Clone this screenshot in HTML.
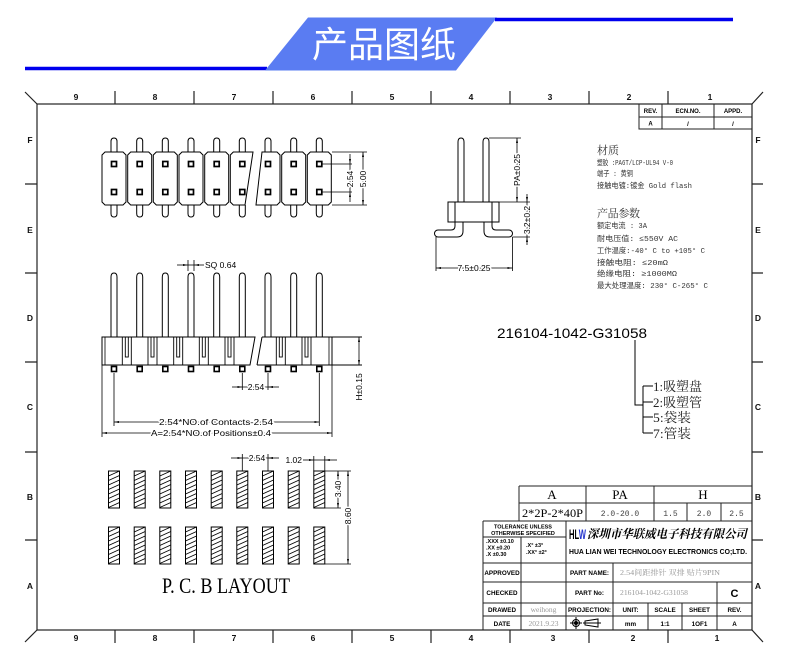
<!DOCTYPE html>
<html><head><meta charset="utf-8"><style>
html,body{margin:0;padding:0;background:#fff;}
svg{display:block;}
.k{paint-order:stroke;stroke:#fff;stroke-width:3px;stroke-linejoin:round;}
</style></head><body>
<svg width="790" height="663" viewBox="0 0 790 663" xmlns="http://www.w3.org/2000/svg" font-family="Liberation Sans, sans-serif">
<defs>
<marker id="ar" viewBox="0 0 10 4" refX="10" refY="2" markerWidth="5" markerHeight="2" markerUnits="userSpaceOnUse" orient="auto-start-reverse"><path d="M0,0 L10,2 L0,4z" fill="#000"/></marker>
<g id="tb"><polygon points="-9,152 9,152 12,155 12,202 9,205 -9,205 -12,202 -12,155" fill="none" stroke="#000"/></g>
<g id="tt" fill="none" stroke="#000"><path d="M-3,152V141.5Q-3,138 0,138Q3,138 3,141.5V152"/><path d="M-3,205V213.5Q-3,217 0,217Q3,217 3,213.5V205"/><rect x="-2.5" y="161.5" width="5" height="5" stroke-width="1.7"/><rect x="-2.5" y="189.5" width="5" height="5" stroke-width="1.7"/></g>
<g id="sp" fill="none" stroke="#000"><path d="M-3,337V277Q-3,273 0,273Q3,273 3,277V337"/><rect x="-2.5" y="366.5" width="5" height="5" stroke-width="1.6"/></g>
<g id="cb" fill="none" stroke="#000" stroke-width="0.9"><line x1="-4.5" y1="337" x2="-4.5" y2="365"/><line x1="4.5" y1="337" x2="4.5" y2="365"/><rect x="-1.5" y="337" width="3" height="20"/></g>
<g id="pd" fill="none" stroke="#000" stroke-width="0.9"><rect x="0" y="0" width="11" height="37" stroke-width="1"/><path d="M0,5L11,0M0,9.5L11,4.5M0,14L11,9M0,18.5L11,13.5M0,23L11,18M0,27.5L11,22.5M0,32L11,27M0,36.5L11,31.5"/></g>
</defs>

<!-- header -->
<line x1="25" y1="68.5" x2="267" y2="68.5" stroke="#0000ee" stroke-width="3.5"/>
<polygon points="265,70.5 308,17.5 497,17.5 456,70.5" fill="#5a7cf2"/>
<line x1="495" y1="19.5" x2="733" y2="19.5" stroke="#0000ee" stroke-width="3.5"/>
<text x="384" y="57" font-size="36" fill="#fff" text-anchor="middle" font-family="Noto Sans CJK SC, sans-serif">产品图纸</text>

<!-- frame -->
<g stroke="#222" stroke-width="1.2" fill="none">
<rect x="37" y="104" width="715" height="526"/>
<path d="M25,92L37,104M763,92L752,104M25,642L37,630M763,642L752,630"/>
<path d="M115,91V104M194,91V104M273,91V104M352,91V104M431,91V104M510,91V104M589,91V104M668,91V104"/>
<path d="M115,630V643M194,630V643M273,630V643M352,630V643M431,630V643M510,630V643M589,630V643M668,630V643"/>
<path d="M25,184H37M25,273H37M25,362H37M25,452H37M25,540H37"/>
<path d="M752,184H763M752,273H763M752,362H763M752,452H763M752,540H763"/>
</g>
<g font-size="8.5" font-weight="bold" text-anchor="middle" fill="#111">
<text x="76" y="100">9</text><text x="155" y="100">8</text><text x="234" y="100">7</text><text x="313" y="100">6</text><text x="392" y="100">5</text><text x="471" y="100">4</text><text x="550" y="100">3</text><text x="629" y="100">2</text><text x="710" y="100">1</text>
<text x="76" y="641">9</text><text x="155" y="641">8</text><text x="234" y="641">7</text><text x="313" y="641">6</text><text x="392" y="641">5</text><text x="471" y="641">4</text><text x="553" y="641">3</text><text x="633" y="641">2</text><text x="717" y="641">1</text>
<text x="30" y="143">F</text><text x="30" y="233">E</text><text x="30" y="321">D</text><text x="30" y="410">C</text><text x="30" y="500">B</text><text x="30" y="589">A</text>
<text x="758" y="143">F</text><text x="758" y="233">E</text><text x="758" y="321">D</text><text x="758" y="410">C</text><text x="758" y="500">B</text><text x="758" y="589">A</text>
</g>

<!-- REV table -->
<g stroke="#222" stroke-width="1" fill="none">
<path d="M639,104V129H752M639,117H752M662,104V129M714,104V129"/>
</g>
<g font-size="6" font-weight="bold" text-anchor="middle">
<text x="650.5" y="113">REV.</text><text x="688" y="113">ECN.NO.</text><text x="733" y="113">APPD.</text>
<text x="650.5" y="125.5">A</text><text x="688" y="126">/</text><text x="733" y="126">/</text>
</g>

<!-- TOP VIEW -->
<use href="#tb" x="114"/><use href="#tb" x="139.7"/><use href="#tb" x="165.3"/><use href="#tb" x="191"/><use href="#tb" x="216.7"/><use href="#tb" x="293.7"/><use href="#tb" x="319.3"/>
<polygon points="233.3,152 253,152 245,205 233.3,205 230.3,202 230.3,155" fill="none" stroke="#000"/>
<polygon points="262,152 277,152 280,155 280,202 277,205 256,205" fill="none" stroke="#000"/>
<use href="#tt" x="114"/><use href="#tt" x="139.7"/><use href="#tt" x="165.3"/><use href="#tt" x="191"/><use href="#tt" x="216.7"/><use href="#tt" x="242.3"/><use href="#tt" x="268"/><use href="#tt" x="293.7"/><use href="#tt" x="319.3"/>
<g stroke="#000" stroke-width="0.8" fill="none">
<path d="M322,164H352M322,192H352M332,152H367M332,205H367"/>
<line x1="350" y1="154" x2="350" y2="164" marker-end="url(#ar)"/>
<line x1="350" y1="202" x2="350" y2="192" marker-end="url(#ar)"/>
<line x1="350" y1="164" x2="350" y2="192"/>
<line x1="363" y1="152" x2="363" y2="205" marker-start="url(#ar)" marker-end="url(#ar)"/>
</g>
<g font-size="8.5" text-anchor="middle">
<text class="k" transform="translate(353,179) rotate(-90)">2.54</text>
<text class="k" transform="translate(366,179) rotate(-90)">5.00</text>
</g>

<!-- SIDE VIEW -->
<use href="#sp" x="114"/><use href="#sp" x="139.7"/><use href="#sp" x="165.3"/><use href="#sp" x="191"/><use href="#sp" x="216.7"/><use href="#sp" x="242.3"/><use href="#sp" x="268"/><use href="#sp" x="293.7"/><use href="#sp" x="319.3"/>
<g stroke="#000" fill="none">
<path d="M102,337H255L250,365H102Z"/>
<path d="M262,337H362M257,365H362M262,337L257,365M332,337V365"/>
<path d="M105,337V365M329,337V365" stroke-width="0.8"/>
</g>
<use href="#cb" x="126.8"/><use href="#cb" x="152.5"/><use href="#cb" x="178.2"/><use href="#cb" x="203.8"/><use href="#cb" x="229.5"/><use href="#cb" x="280.8"/><use href="#cb" x="306.5"/>
<g stroke="#000" stroke-width="0.8" fill="none">
<path d="M188,260V271M194,260V271"/>
<line x1="177" y1="265" x2="188" y2="265" marker-end="url(#ar)"/>
<line x1="204" y1="265" x2="194" y2="265" marker-end="url(#ar)"/>
<line x1="188" y1="265" x2="194" y2="265"/>
<path d="M242.3,373V390M268,373V390"/>
<line x1="232" y1="387" x2="242.3" y2="387" marker-end="url(#ar)"/>
<line x1="279" y1="387" x2="268" y2="387" marker-end="url(#ar)"/>
<line x1="242.3" y1="387" x2="268" y2="387"/>
<path d="M114,373V426M319.3,373V426M102,365V437M332,365V437"/>
<line x1="114" y1="422" x2="319.3" y2="422" marker-start="url(#ar)" marker-end="url(#ar)"/>
<line x1="102" y1="433" x2="332" y2="433" marker-start="url(#ar)" marker-end="url(#ar)"/>
<line x1="359" y1="337" x2="359" y2="365" marker-start="url(#ar)" marker-end="url(#ar)"/>
</g>
<g font-size="8.5">
<text x="205" y="268">SQ 0.64</text>
<text class="k" x="256" y="390" text-anchor="middle">2.54</text>
<text class="k" x="216" y="425" text-anchor="middle" textLength="114" lengthAdjust="spacingAndGlyphs">2.54*NO.of Contacts-2.54</text>
<text class="k" x="211" y="436" text-anchor="middle" textLength="120" lengthAdjust="spacingAndGlyphs">A=2.54*NO.of Positions±0.4</text>
<text transform="translate(362,387) rotate(-90)" text-anchor="middle">H±0.15</text>
</g>

<!-- PCB LAYOUT -->
<use href="#pd" x="108.5" y="471"/><use href="#pd" x="134.2" y="471"/><use href="#pd" x="159.8" y="471"/><use href="#pd" x="185.5" y="471"/><use href="#pd" x="211.2" y="471"/><use href="#pd" x="236.8" y="471"/><use href="#pd" x="262.5" y="471"/><use href="#pd" x="288.2" y="471"/><use href="#pd" x="313.8" y="471"/>
<use href="#pd" x="108.5" y="527"/><use href="#pd" x="134.2" y="527"/><use href="#pd" x="159.8" y="527"/><use href="#pd" x="185.5" y="527"/><use href="#pd" x="211.2" y="527"/><use href="#pd" x="236.8" y="527"/><use href="#pd" x="262.5" y="527"/><use href="#pd" x="288.2" y="527"/><use href="#pd" x="313.8" y="527"/>
<g stroke="#000" stroke-width="0.8" fill="none">
<path d="M242.3,471V454M268,471V454"/>
<line x1="231" y1="458" x2="242.3" y2="458" marker-end="url(#ar)"/>
<line x1="279" y1="458" x2="268" y2="458" marker-end="url(#ar)"/>
<line x1="242.3" y1="458" x2="268" y2="458"/>
<path d="M313.8,471V456M324.8,471V456"/>
<line x1="303" y1="460" x2="313.8" y2="460" marker-end="url(#ar)"/>
<line x1="337" y1="460" x2="324.8" y2="460" marker-end="url(#ar)"/>
<line x1="313.8" y1="460" x2="324.8" y2="460"/>
<path d="M324.8,471H351M324.8,508H341M324.8,564H351"/>
<line x1="338" y1="471" x2="338" y2="508" marker-start="url(#ar)" marker-end="url(#ar)"/>
<line x1="348" y1="471" x2="348" y2="564" marker-start="url(#ar)" marker-end="url(#ar)"/>
</g>
<g font-size="8.5">
<text class="k" x="257" y="461" text-anchor="middle">2.54</text>
<text x="302" y="463" text-anchor="end">1.02</text>
<text class="k" transform="translate(341,489) rotate(-90)" text-anchor="middle">3.40</text>
<text class="k" transform="translate(351,516) rotate(-90)" text-anchor="middle">8.60</text>
</g>
<text x="162" y="593" font-family="Liberation Serif, serif" font-size="22" textLength="128" lengthAdjust="spacingAndGlyphs">P. C. B LAYOUT</text>

<!-- RIGHT SIDE VIEW -->
<g stroke="#000" fill="none">
<path d="M458,202V142Q458,138 461,138Q464,138 464,142V202"/>
<path d="M483,202V142Q483,138 486,138Q489,138 489,142V202"/>
<rect x="448" y="202" width="51" height="20"/>
<path d="M455,202V226Q455,230 451,230H438A3.5,3.5 0 0 0 438,237H457Q463,237 463,231V222"/>
<path d="M492,202V226Q492,230 496,230H509A3.5,3.5 0 0 1 509,237H490Q484,237 484,231V222"/>
</g>
<g stroke="#000" stroke-width="0.8" fill="none">
<path d="M489,138H521M499,202H530M512.5,237H530M436,237V271M512.5,237V271"/>
<line x1="517" y1="138" x2="517" y2="202" marker-start="url(#ar)" marker-end="url(#ar)"/>
<line x1="527" y1="194" x2="527" y2="202" marker-end="url(#ar)"/>
<line x1="527" y1="245" x2="527" y2="237" marker-end="url(#ar)"/>
<line x1="527" y1="202" x2="527" y2="237"/>
<line x1="436" y1="268" x2="512.5" y2="268" marker-start="url(#ar)" marker-end="url(#ar)"/>
</g>
<g font-size="8.5" text-anchor="middle">
<text class="k" transform="translate(520,170) rotate(-90)">PA±0.25</text>
<text class="k" transform="translate(530,220) rotate(-90)">3.2±0.2</text>
<text class="k" x="474" y="271">7.5±0.25</text>
</g>

<!-- spec text -->
<g fill="#333" font-family="Liberation Mono, Noto Sans CJK SC, monospace" font-size="7.5">
<text x="597" y="154" font-size="11" font-family="Noto Serif CJK SC, serif" textLength="22">材质</text>
<text x="597" y="165" textLength="76" lengthAdjust="spacingAndGlyphs">塑胶 :PA6T/LCP-UL94 V-0</text>
<text x="597" y="176" textLength="36" lengthAdjust="spacingAndGlyphs">端子 : 黄铜</text>
<text x="597" y="188" textLength="95" lengthAdjust="spacingAndGlyphs">接触电镀:镀金 Gold flash</text>
<text x="597" y="217" font-size="11" font-family="Noto Serif CJK SC, serif" textLength="43">产品参数</text>
<text x="597" y="228" textLength="50" lengthAdjust="spacingAndGlyphs">额定电流 : 3A</text>
<text x="597" y="241" textLength="81" lengthAdjust="spacingAndGlyphs">耐电压值: ≤550V AC</text>
<text x="597" y="253" textLength="108" lengthAdjust="spacingAndGlyphs">工作温度:-40° C to +105° C</text>
<text x="597" y="265" textLength="71" lengthAdjust="spacingAndGlyphs">接触电阻: ≤20mΩ</text>
<text x="597" y="276" textLength="80" lengthAdjust="spacingAndGlyphs">绝缘电阻: ≥1000MΩ</text>
<text x="597" y="288" textLength="111" lengthAdjust="spacingAndGlyphs">最大处理温度: 230° C-265° C</text>
</g>

<!-- part number -->
<text x="497" y="338" font-size="14" textLength="150" lengthAdjust="spacingAndGlyphs">216104-1042-G31058</text>
<g stroke="#000" stroke-width="1" fill="none">
<path d="M635,340V405H643M643,386V433M643,386H653M643,402H653M643,417H653M643,433H653"/>
</g>
<g font-family="Liberation Serif, Noto Serif CJK SC, serif" font-size="13" fill="#222">
<text x="653" y="391" textLength="49" lengthAdjust="spacingAndGlyphs">1:吸塑盘</text>
<text x="653" y="407" textLength="49" lengthAdjust="spacingAndGlyphs">2:吸塑管</text>
<text x="653" y="422" textLength="38" lengthAdjust="spacingAndGlyphs">5:袋装</text>
<text x="653" y="438" textLength="38" lengthAdjust="spacingAndGlyphs">7:管装</text>
</g>

<!-- title block -->
<g stroke="#222" stroke-width="1" fill="none">
<path d="M519,486H752M519,503H752M483,521H752M519,486V521M586,486V521M654,486V521M687,503V521M721,503V521"/>
<path d="M483,521V630M483,537H566M521,537V630M566,521V630M483,563H752M483,582H752M483,603H752M483,616H752M613,563V630M717,582V630M648,603V630M682,603V630"/>
</g>
<g font-family="Liberation Serif, serif" text-anchor="middle">
<text x="552" y="499" font-size="13">A</text>
<text x="620" y="499" font-size="13">PA</text>
<text x="703" y="499" font-size="13">H</text>
<text x="552.5" y="517" font-size="12" textLength="61" lengthAdjust="spacingAndGlyphs">2*2P-2*40P</text>
</g>
<g font-family="Liberation Mono, monospace" font-size="8" text-anchor="middle" fill="#444">
<text x="620" y="516">2.0-20.0</text>
<text x="670.5" y="516">1.5</text><text x="704" y="516">2.0</text><text x="736.5" y="516">2.5</text>
</g>
<g font-size="5.5" font-weight="bold">
<text x="523" y="528.5" text-anchor="middle">TOLERANCE UNLESS</text>
<text x="523" y="535" text-anchor="middle">OTHERWISE SPECIFIED</text>
<text x="486" y="543">.XXX ±0.10</text>
<text x="486" y="549.5">.XX  ±0.20</text>
<text x="486" y="556">.X   ±0.30</text>
<text x="526" y="547">.X°  ±3°</text>
<text x="526" y="554">.XX° ±2°</text>
</g>
<text x="569" y="539" font-size="14" font-weight="bold" textLength="17" lengthAdjust="spacingAndGlyphs">HL<tspan fill="#2233cc">W</tspan></text>
<text x="587" y="538" font-size="12" font-weight="bold" font-style="italic" font-family="Liberation Serif, Noto Serif CJK SC, serif" textLength="160" lengthAdjust="spacingAndGlyphs">深圳市华联威电子科技有限公司</text>
<text x="569" y="554" font-size="7.5" font-weight="bold" textLength="178" lengthAdjust="spacingAndGlyphs">HUA LIAN WEI TECHNOLOGY ELECTRONICS CO;LTD.</text>
<g font-size="6.3" font-weight="bold" text-anchor="middle">
<text x="502" y="575">APPROVED</text>
<text x="589.5" y="575">PART NAME:</text>
<text x="502" y="595">CHECKED</text>
<text x="589.5" y="595">PART No:</text>
<text x="502" y="612">DRAWED</text>
<text x="589.5" y="612">PROJECTION:</text>
<text x="630.5" y="612">UNIT:</text>
<text x="665" y="612">SCALE</text>
<text x="699.5" y="612">SHEET</text>
<text x="734.5" y="612">REV.</text>
<text x="502" y="626">DATE</text>
<text x="630.5" y="626">mm</text>
<text x="665" y="626">1:1</text>
<text x="699.5" y="626">1OF1</text>
<text x="734.5" y="626">A</text>
<text x="734.5" y="597" font-size="11">C</text>
</g>
<g fill="#999" font-size="7.5" font-family="Liberation Serif, Noto Serif CJK SC, serif">
<text x="620" y="575" textLength="100" lengthAdjust="spacingAndGlyphs">2.54间距排针 双排 贴片9PIN</text>
<text x="620" y="595" textLength="68" lengthAdjust="spacingAndGlyphs">216104-1042-G31058</text>
<text x="543.5" y="612" text-anchor="middle">weihong</text>
<text x="543.5" y="626" text-anchor="middle">2021.9.23</text>
</g>
<g stroke="#000" fill="none" stroke-width="1">
<circle cx="576" cy="623" r="3.5"/>
<circle cx="576" cy="623" r="1.5" fill="#000"/>
<path d="M570,623H582M576,617V629"/>
<path d="M585,621L598,619V627L585,625Z"/>
<path d="M583,623H601"/>
</g>
</svg>
</body></html>
